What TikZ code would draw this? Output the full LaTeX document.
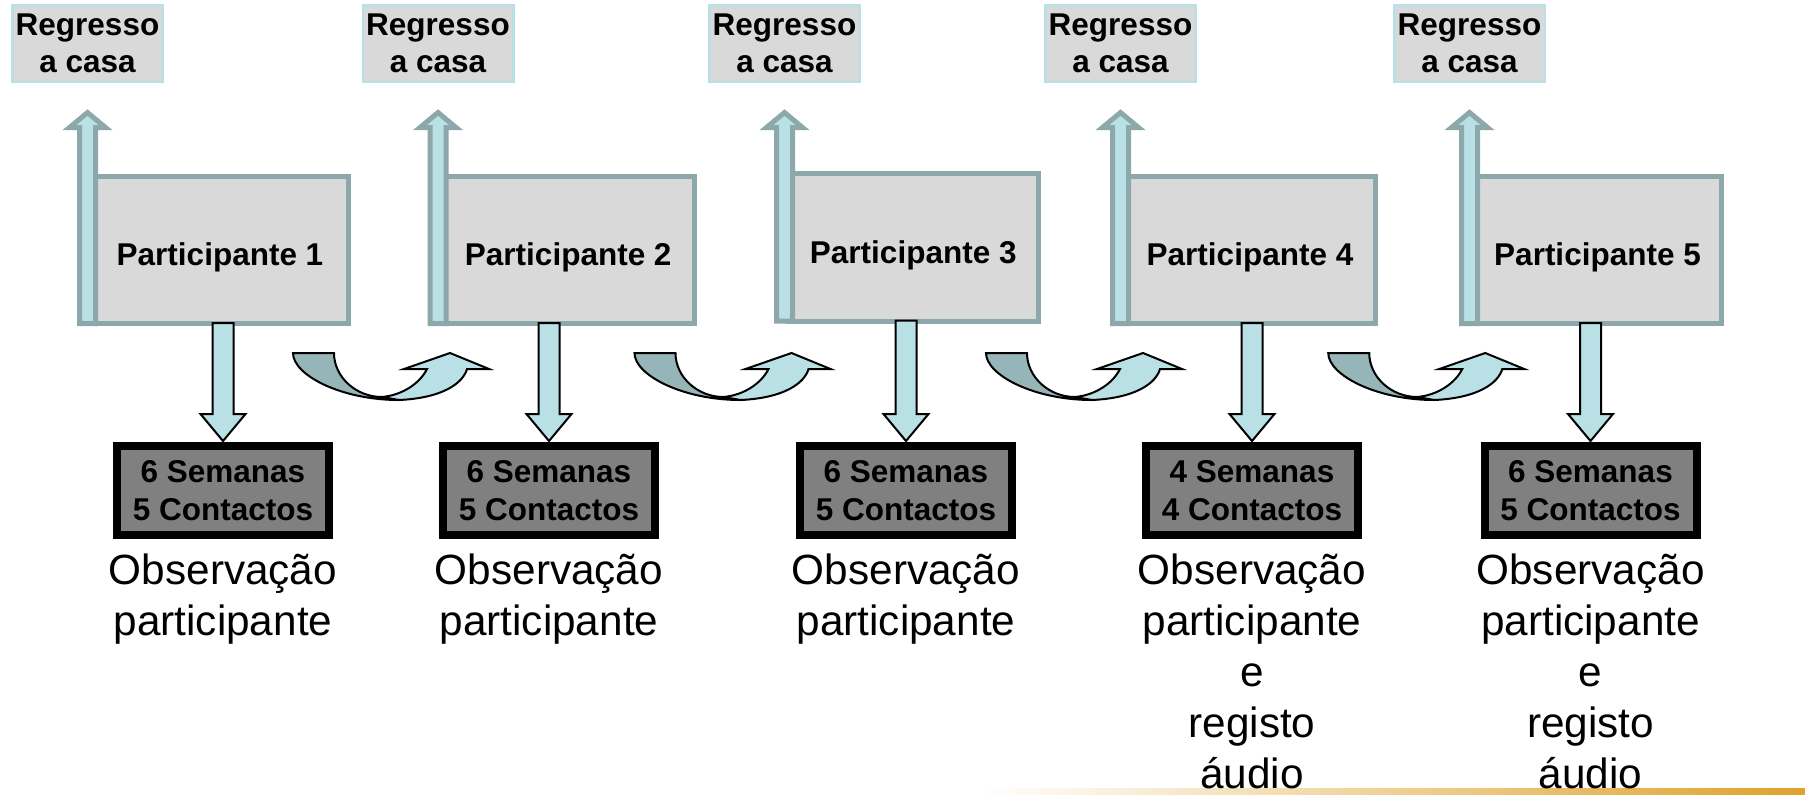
\documentclass[tikz,border=0pt]{standalone}
\usepackage{fontspec}
\setmainfont{Liberation Sans}
\usepackage{xcolor}
\usepackage{tikz}
\usetikzlibrary{calc}

\definecolor{boxgray}{HTML}{D9D9D9}
\definecolor{framegray}{HTML}{8DA8AA}
\definecolor{paleblue}{HTML}{B9E0E5}
\definecolor{backteal}{HTML}{95B5B8}
\definecolor{weekgray}{HTML}{808080}
\definecolor{gold}{HTML}{DFA22A}

\begin{document}
\begin{tikzpicture}[x=0.5pt, y=-0.5pt]
	\tikzstyle{home} = [draw=paleblue, line width=1.25pt, fill=boxgray, inner sep=1pt, minimum width=75.25pt, minimum height=38.25pt, align=center, font=\fontsize{15.75}{18.5}\selectfont\bfseries]
	\tikzstyle{part} = [draw=framegray, line width=2.5pt, fill=boxgray, minimum height=73.75pt, text height=18pt, text depth=2pt, font=\fontsize{15.75}{18.5}\selectfont\bfseries]
	\tikzstyle{weeks} = [draw=black, line width=4pt, fill=weekgray, minimum width=106pt, minimum height=44.5pt, inner sep=2pt, align=center, font=\fontsize{15.75}{19}\selectfont\bfseries]
	\tikzstyle{note} = [anchor=north, inner sep=0pt, align=center, font=\fontsize{21.15}{25.5}\selectfont]
	\tikzstyle{uparrow} = [draw=framegray, line width=2.5pt, fill=paleblue]
	\tikzstyle{downarrow} = [draw=black, line width=1pt, fill=paleblue]
	\tikzstyle{turnback} = [draw=black, line width=1pt, fill=backteal]
	\tikzstyle{turnfront} = [draw=black, line width=1pt, fill=paleblue]

	\useasboundingbox (0,0) rectangle (1805,794);
	\shade[left color=white, middle color=gold!35, right color=gold] (980,788) rectangle (1805,794);

	\node[home]	at (87.5, 43.5)		(r1)	{Regresso\\a casa};
	\node[home]	at (438, 43.5)		(r2)	{Regresso\\a casa};
	\node[home]	at (784.5, 43.5)	(r3)	{Regresso\\a casa};
	\node[home]	at (1120.5, 43.5)	(r4)	{Regresso\\a casa};
	\node[home]	at (1469.5, 43.5)	(r5)	{Regresso\\a casa};

	\node[part, minimum width=128.5pt]	at (220, 249.75)	(p1)	{Participante 1};
	\node[part, minimum width=126.25pt]	at (568.25, 249.75)	(p2)	{Participante 2};
	\node[part, minimum width=124.75pt]	at (913.25, 247.25)	(p3)	{Participante 3};
	\node[part, minimum width=125.5pt]	at (1250, 249.75)	(p4)	{Participante 4};
	\node[part, minimum width=124pt]	at (1597.5, 249.75)	(p5)	{Participante 5};

	\foreach \i in {1,...,5}
		\path[uparrow] let \p1 = (r\i.south), \p2 = (p\i.south) in
		(\x1-4pt, \y2+1.25pt) -- (\x1-4pt, \y1-22.25pt) -- (\x1-9pt, \y1-22.25pt) -- (\x1, \y1-14.75pt)
		-- (\x1+9pt, \y1-22.25pt) -- (\x1+4pt, \y1-22.25pt) -- (\x1+4pt, \y2+1.25pt) -- cycle;

	\node[weeks]	at (223, 490.5)		(w1)	{6 Semanas\\5 Contactos};
	\node[weeks]	at (549, 490.5)		(w2)	{6 Semanas\\5 Contactos};
	\node[weeks]	at (906, 490.5)		(w3)	{6 Semanas\\5 Contactos};
	\node[weeks]	at (1252, 490.5)	(w4)	{4 Semanas\\4 Contactos};
	\node[weeks]	at (1590.5, 490.5)	(w5)	{6 Semanas\\5 Contactos};

	\foreach \i in {1,...,5}
		\path[downarrow] let \p1 = (w\i.north), \p2 = (p\i.south) in
		(\x1-5.25pt, \y2+1.5pt) -- (\x1-5.25pt, \y1+14pt) -- (\x1-11.25pt, \y1+14pt) -- (\x1, \y1+0.5pt)
		-- (\x1+11.25pt, \y1+14pt) -- (\x1+5.25pt, \y1+14pt) -- (\x1+5.25pt, \y2+1.5pt) -- cycle;

	% turn from one participant to the next
	\foreach \i/\j in {1/2, 2/3, 3/4, 4/5} {
		\begin{scope}[shift={($(w\i.north)!0.5!(w\j.north)+(-93,-89)$)}]
			\path[turnback] (0,0) -- (41,0) .. controls (41,24) and (63,44) .. (89,44) -- (106,47)
			.. controls (48,47) and (0,22) .. (0,0) -- cycle;
			\path[turnfront] (89,44) .. controls (110,42) and (127,30) .. (134,16) -- (111,16) -- (157,0)
			-- (196,16) -- (174,16) .. controls (170,30) and (150,45) .. (106,47) -- cycle;
		\end{scope}
	}

	\node[note]	at (223, 553)		(c1)	{Observação\\participante};
	\node[note]	at (549, 553)		(c2)	{Observação\\participante};
	\node[note]	at (906, 553)		(c3)	{Observação\\participante};
	\node[note]	at (1252, 553)		(c4)	{Observação\\participante\\e\\registo\\áudio};
	\node[note]	at (1590.5, 553)	(c5)	{Observação\\participante\\e\\registo\\áudio};
\end{tikzpicture}
\end{document}
